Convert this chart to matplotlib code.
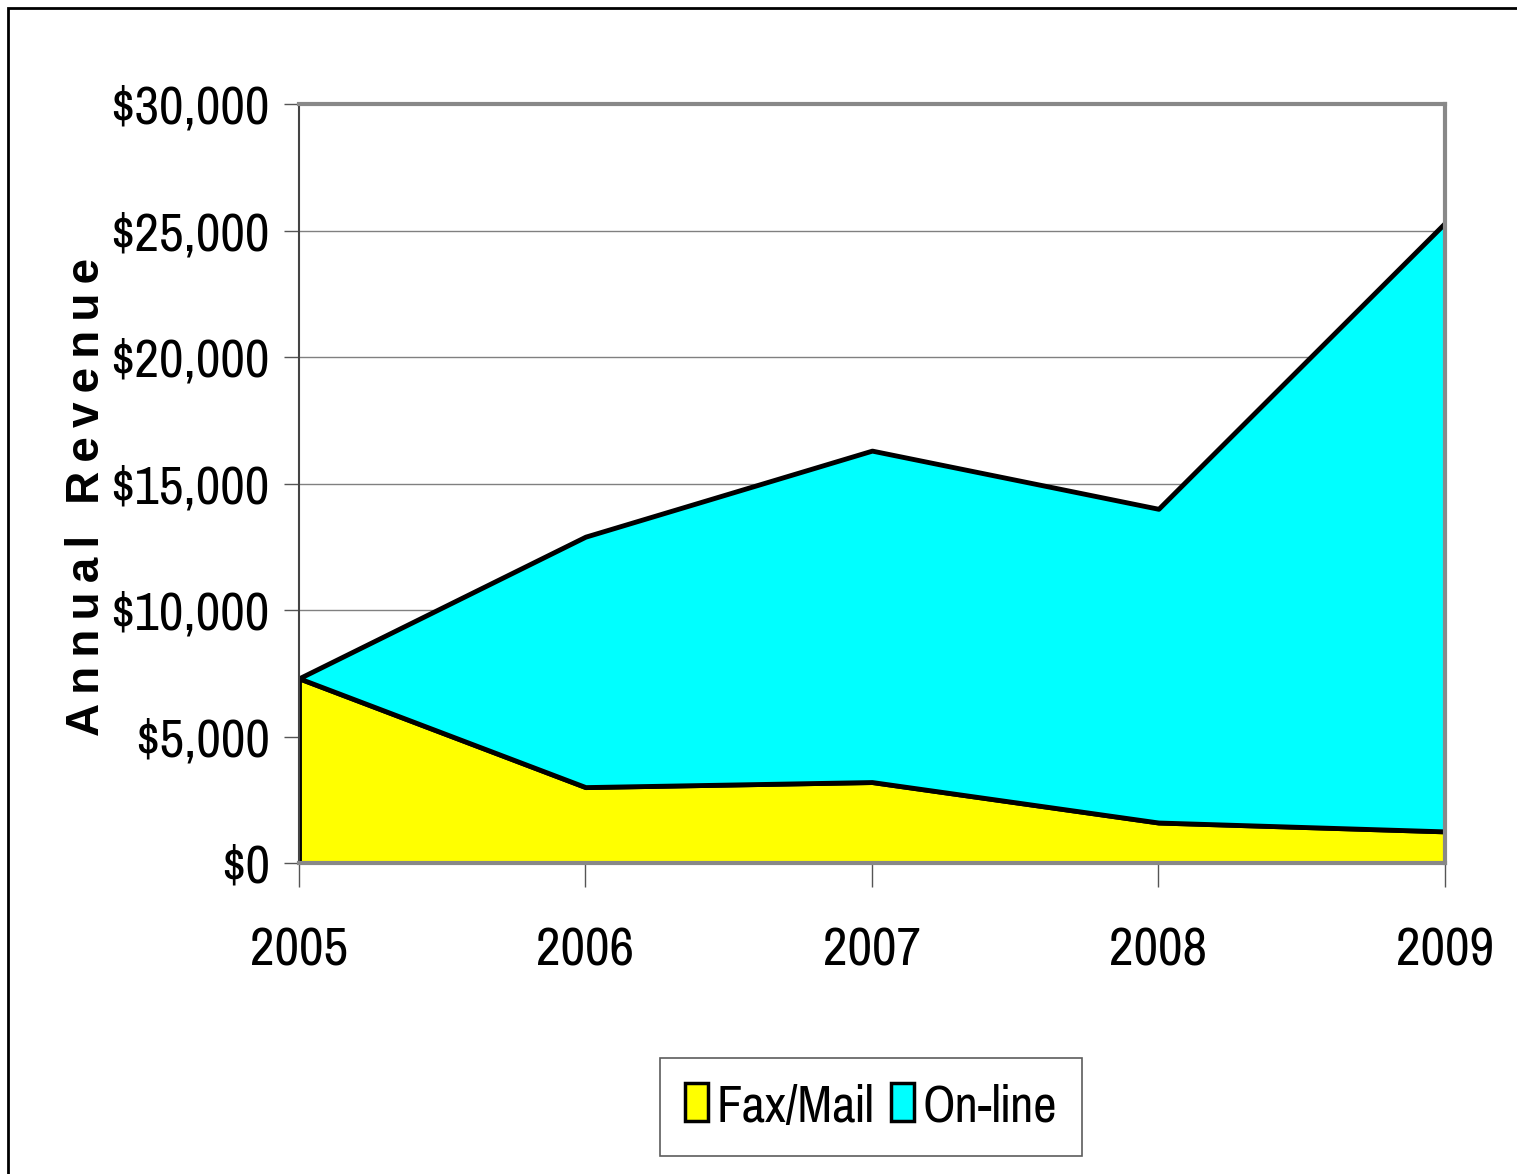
import matplotlib.pyplot as plt
from matplotlib.patches import Rectangle, Patch
from matplotlib.ticker import FuncFormatter
from matplotlib import font_manager

# data
years = [2005, 2006, 2007, 2008, 2009]
fax_mail = [7300, 3000, 3200, 1600, 1250]
online = [0, 9900, 13100, 12400, 24050]
series_names = ['Fax/Mail', 'On-line']
series_colors = ['#FFFF00', '#00FFFF']

names = {f.name for f in font_manager.fontManager.ttflist}
narrow = next((n for n in ['Pragati Narrow', 'Archivo Narrow', 'Liberation Sans Narrow']
               if n in names), 'Liberation Sans')
plt.rcParams['font.family'] = [narrow, 'DejaVu Sans']

fig = plt.figure(figsize=(15.17, 11.74), dpi=100)
ax = fig.add_axes([0.1971, 0.2649, 0.9525 - 0.1971, 0.9114 - 0.2649])

# outer frame
fig.patches.append(Rectangle((8 / 1517, -0.01), 1.1, 1 - 8 / 1174 + 0.01,
                             transform=fig.transFigure, fill=False,
                             edgecolor='black', linewidth=2))

ax.stackplot(years, fax_mail, online, colors=series_colors,
             edgecolor='black', linewidth=3.5, labels=series_names)

ax.set_xlim(2005, 2009)
ax.set_ylim(0, 30000)
ax.set_xticks(years)
ax.set_yticks(range(0, 30001, 5000))
ax.yaxis.set_major_formatter(FuncFormatter(lambda v, p: '${:,.0f}'.format(v)))
ax.grid(axis='y', color='#808080', linewidth=1)
ax.set_axisbelow(True)

for s in ['top', 'right', 'bottom']:
    ax.spines[s].set_color('#888888')
    ax.spines[s].set_linewidth(3)
ax.spines['left'].set_color('#444444')
ax.spines['left'].set_linewidth(1.5)

ax.tick_params(axis='y', length=11, width=1, color='#555555', labelsize=42, pad=10)
ax.tick_params(axis='x', length=17, width=1, color='#555555', labelsize=42, pad=29)

fig.text(87 / 1517, 1 - 497 / 1174,
         '\u2009'.join('Annual') + '\u2009 \u2009' + '\u2009'.join('Revenue'),
         rotation=90, ha='center', va='center', fontsize=33, fontweight='bold',
         family=['Liberation Sans', 'DejaVu Sans'])

handles = [Patch(facecolor=c, edgecolor='black', linewidth=2.5, label=n)
           for c, n in zip(series_colors, series_names)]
leg = fig.legend(handles=handles, loc='center', bbox_to_anchor=(871 / 1517, 1 - 1107 / 1174),
                 ncol=2, fontsize=40, frameon=True, fancybox=False, edgecolor='#333333',
                 handlelength=0.42, handleheight=0.65, handletextpad=0.15, columnspacing=0.3,
                 borderpad=0.45, borderaxespad=0)
leg.get_frame().set_linewidth(1.2)

fig.savefig('out.png', dpi=100)
